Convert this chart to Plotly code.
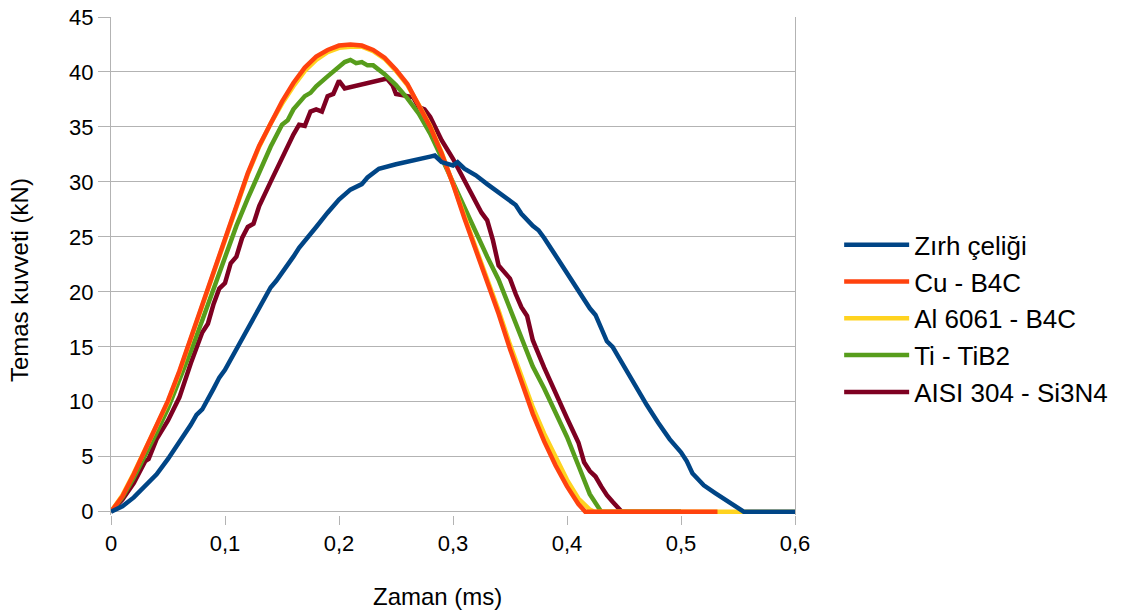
import plotly.graph_objects as go

# Contact force (kN) versus time (ms) for each armour configuration
t_zirh = [0, 0.01, 0.02, 0.03, 0.035, 0.04, 0.05, 0.06, 0.07, 0.075, 0.08, 0.09, 0.095, 0.10,
          0.11, 0.12, 0.13, 0.14, 0.145, 0.15, 0.16, 0.165, 0.17, 0.18, 0.19, 0.20, 0.21,
          0.215, 0.22, 0.225, 0.23, 0.235, 0.25, 0.265, 0.28, 0.284, 0.29, 0.30, 0.304,
          0.31, 0.32, 0.33, 0.34, 0.35, 0.355, 0.36, 0.365, 0.37, 0.375, 0.38, 0.39, 0.40,
          0.41, 0.42, 0.425, 0.43, 0.435, 0.44, 0.45, 0.46, 0.47, 0.48, 0.49, 0.50, 0.505,
          0.51, 0.515, 0.52, 0.53, 0.54, 0.55, 0.555, 0.6]
f_zirh = [0, 0.5, 1.3, 2.3, 2.9, 3.4, 4.8, 6.3, 7.9, 8.8, 9.3, 11.2, 12.2, 12.9,
          14.8, 16.6, 18.5, 20.4, 21.0, 21.7, 23.2, 24.0, 24.6, 25.9, 27.2, 28.4, 29.3,
          29.6, 29.8, 30.4, 30.8, 31.2, 31.6, 32.0, 32.3, 32.4, 31.8, 31.5, 31.8,
          31.2, 30.6, 29.8, 29.0, 28.2, 27.9, 27.1, 26.5, 26.0, 25.6, 24.9, 23.3, 21.7,
          20.1, 18.5, 17.9, 16.8, 15.5, 15.0, 13.2, 11.4, 9.7, 8.1, 6.6, 5.4, 4.6,
          3.5, 3.0, 2.4, 1.7, 1.0, 0.3, 0, 0]

t_cu = [0, 0.01, 0.02, 0.03, 0.04, 0.05, 0.06, 0.07, 0.08, 0.09, 0.10, 0.11, 0.12, 0.13,
        0.14, 0.15, 0.16, 0.17, 0.18, 0.19, 0.20, 0.21, 0.22, 0.23, 0.24, 0.25, 0.26,
        0.27, 0.28, 0.29, 0.30, 0.31, 0.32, 0.33, 0.34, 0.35, 0.36, 0.37, 0.38, 0.39,
        0.40, 0.41, 0.416, 0.532]
f_cu = [0, 1.4, 3.4, 5.6, 7.7, 10.1, 12.8, 15.8, 18.9, 22.0, 25.1, 28.0, 30.8, 33.3,
        35.4, 37.3, 39.0, 40.4, 41.4, 42.0, 42.4, 42.5, 42.4, 42.0, 41.3, 40.2, 38.9,
        37.0, 35.0, 32.6, 29.8, 26.7, 23.8, 21.0, 18.0, 14.8, 11.8, 8.9, 6.4, 4.2,
        2.3, 0.7, 0, 0]

t_al = [0, 0.01, 0.02, 0.03, 0.04, 0.05, 0.06, 0.07, 0.08, 0.09, 0.10, 0.11, 0.12, 0.13,
        0.14, 0.15, 0.16, 0.17, 0.18, 0.19, 0.20, 0.21, 0.22, 0.23, 0.24, 0.25, 0.26,
        0.27, 0.28, 0.29, 0.30, 0.31, 0.32, 0.33, 0.34, 0.35, 0.36, 0.37, 0.38, 0.39,
        0.40, 0.41, 0.42, 0.424, 0.6]
f_al = [0, 1.5, 3.5, 5.6, 7.7, 10.0, 12.7, 15.7, 18.8, 21.9, 25.0, 27.9, 30.7, 33.2,
        35.3, 37.1, 38.7, 40.1, 41.1, 41.8, 42.2, 42.3, 42.3, 41.9, 41.2, 40.1, 38.8,
        37.0, 35.1, 32.7, 29.9, 26.9, 24.0, 21.2, 18.3, 15.2, 12.3, 9.5, 7.1, 4.9,
        2.9, 1.2, 0.2, 0, 0]

t_ti = [0, 0.01, 0.02, 0.03, 0.04, 0.05, 0.06, 0.07, 0.08, 0.09, 0.10, 0.11, 0.12, 0.13,
        0.14, 0.15, 0.155, 0.16, 0.17, 0.175, 0.18, 0.19, 0.20, 0.205, 0.21, 0.215, 0.22,
        0.225, 0.23, 0.24, 0.25, 0.26, 0.27, 0.28, 0.29, 0.30, 0.31, 0.32, 0.33, 0.34,
        0.35, 0.36, 0.37, 0.38, 0.39, 0.40, 0.41, 0.42, 0.43, 0.5]
f_ti = [0, 1.3, 3.1, 5.1, 7.2, 9.4, 11.9, 14.6, 17.4, 20.3, 23.3, 26.0, 28.5, 30.8,
        33.2, 35.2, 35.6, 36.6, 37.8, 38.1, 38.7, 39.6, 40.4, 40.9, 41.1, 40.8, 40.9,
        40.6, 40.6, 39.8, 38.8, 37.6, 36.2, 34.4, 32.2, 29.9, 27.6, 25.3, 23.2, 21.1,
        18.5, 15.8, 13.2, 11.2, 9.0, 6.8, 4.2, 1.6, 0, 0]

t_aisi = [0, 0.01, 0.02, 0.025, 0.03, 0.033, 0.04, 0.05, 0.06, 0.07, 0.08, 0.085, 0.09,
          0.095, 0.10, 0.105, 0.11, 0.115, 0.12, 0.125, 0.13, 0.14, 0.15, 0.16, 0.165,
          0.17, 0.175, 0.18, 0.185, 0.19, 0.195, 0.20, 0.205, 0.242, 0.247, 0.25, 0.26,
          0.265, 0.27, 0.275, 0.28, 0.285, 0.29, 0.30, 0.31, 0.32, 0.325, 0.33, 0.335,
          0.34, 0.345, 0.35, 0.355, 0.36, 0.365, 0.37, 0.38, 0.39, 0.40, 0.41, 0.415,
          0.42, 0.425, 0.43, 0.435, 0.44, 0.448, 0.5]
f_aisi = [0, 1.1, 2.6, 3.5, 4.6, 4.8, 6.6, 8.3, 10.4, 13.5, 16.3, 17.1, 18.9,
          20.3, 20.8, 22.6, 23.2, 24.9, 25.9, 26.2, 27.8, 30.0, 32.2, 34.3, 35.2,
          35.1, 36.4, 36.6, 36.4, 37.8, 38.0, 39.2, 38.5, 39.4, 38.8, 38.0, 37.8,
          37.7, 36.8, 36.6, 35.9, 34.8, 33.8, 32.1, 30.2, 28.3, 27.2, 26.5, 24.7,
          22.4, 21.8, 21.2, 19.8, 18.6, 17.8, 15.6, 13.1, 10.7, 8.5, 6.3, 4.5,
          3.7, 3.2, 2.3, 1.5, 0.9, 0, 0]

x_tickvals = [0, 0.1, 0.2, 0.3, 0.4, 0.5, 0.6]
x_ticktext = ["0", "0,1", "0,2", "0,3", "0,4", "0,5", "0,6"]
y_tickvals = [0, 5, 10, 15, 20, 25, 30, 35, 40, 45]

# Draw order: last trace ends up on top
series = [
    ("AISI 304 - Si3N4", t_aisi, f_aisi, "#7e0021"),
    ("Ti - TiB2", t_ti, f_ti, "#579d1c"),
    ("Al 6061 - B4C", t_al, f_al, "#ffd320"),
    ("Cu - B4C", t_cu, f_cu, "#ff420e"),
    ("Zırh çeliği", t_zirh, f_zirh, "#004586"),
]

FONT = "Liberation Sans, Arial, sans-serif"
GRID = "#b3b3b3"

fig = go.Figure()
for name, t, f, color in series:
    fig.add_trace(go.Scatter(x=t, y=f, mode="lines", name=name,
                             line=dict(color=color, width=4.5)))

fig.update_layout(
    width=1124, height=612,
    margin=dict(l=111, r=328, t=17, b=97),
    paper_bgcolor="white", plot_bgcolor="white",
    font=dict(family=FONT, size=22, color="black"),
    showlegend=True,
    legend=dict(traceorder="reversed", x=1.063, xanchor="left", y=0.394, yanchor="middle",
                font=dict(family=FONT, size=26, color="black"),
                itemwidth=65, tracegroupgap=0, bgcolor="rgba(0,0,0,0)"),
    xaxis=dict(range=[0, 0.6], tickvals=x_tickvals, ticktext=x_ticktext,
               showgrid=False, zeroline=False, showline=False, automargin=False,
               ticks="outside", ticklen=9, tickcolor=GRID, tickwidth=1,
               tickfont=dict(size=22)),
    yaxis=dict(range=[-0.3, 45], tickvals=y_tickvals, automargin=False,
               showgrid=True, gridcolor=GRID, gridwidth=1, zeroline=False,
               showline=True, linecolor=GRID, linewidth=1, mirror=True,
               ticks="outside", ticklen=12, tickcolor=GRID, tickwidth=1,
               tickfont=dict(size=22)),
    annotations=[
        dict(text="Zaman (ms)", xref="paper", yref="paper", x=0.4774, y=-0.1627,
             xanchor="center", yanchor="middle", showarrow=False,
             font=dict(family=FONT, size=24, color="black")),
        dict(text="Temas kuvveti (kN)", xref="paper", yref="paper", x=-0.1328, y=0.472,
             xanchor="center", yanchor="middle", textangle=-90, showarrow=False,
             font=dict(family=FONT, size=24, color="black")),
    ],
)

fig.write_html("out.html")
